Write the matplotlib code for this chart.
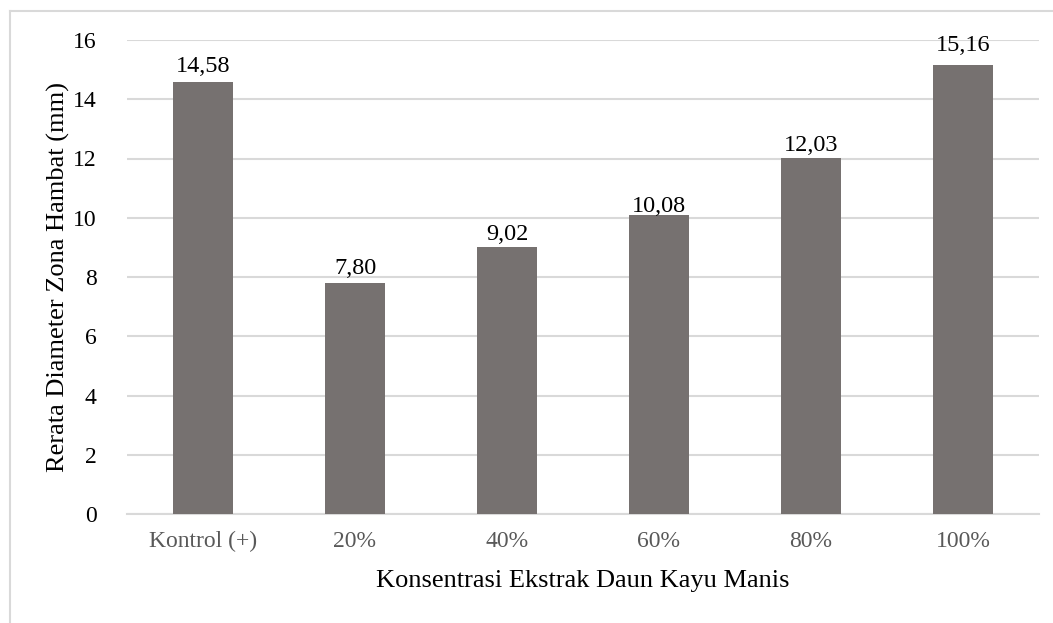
import matplotlib.pyplot as plt
from matplotlib.lines import Line2D

kategori = ['Kontrol (+)', '20%', '40%', '60%', '80%', '100%']
diameter = [14.58, 7.80, 9.02, 10.08, 12.03, 15.16]
label_nilai = ['14,58', '7,80', '9,02', '10,08', '12,03', '15,16']
y_ticks = [0, 2, 4, 6, 8, 10, 12, 14, 16]

# jarak label ke puncak batang (piksel)
jarak_label = [10, 9, 7, 3, 7, 14]

plt.rcParams['font.family'] = ['Liberation Serif', 'DejaVu Serif']

W, H = 1053, 623
fig = plt.figure(figsize=(W / 100, H / 100), dpi=100)
ax = fig.add_axes([127 / W, 1 - 514 / H, (1039 - 127) / W, (514 - 40) / H])

x = range(len(kategori))
bars = ax.bar(x, diameter, width=0.4, color='#767170', zorder=3)

for rect, teks, d in zip(bars, label_nilai, jarak_label):
    ax.annotate(teks, (rect.get_x() + rect.get_width() / 2, rect.get_height()),
                xytext=(0, d * 0.72), textcoords='offset points',
                ha='center', va='baseline', fontsize=17.5, color='black', zorder=4)

ax.set_xlim(-0.5, len(kategori) - 0.5)
ax.set_ylim(0, 16)
ax.set_yticks(y_ticks)
ax.set_yticklabels([str(t) for t in y_ticks], fontsize=17, color='black')
ax.set_xticks(list(x))
ax.set_xticklabels(kategori, fontsize=17, color='#595959')
ax.tick_params(axis='both', length=0)
ax.tick_params(axis='y', pad=22)
ax.tick_params(axis='x', pad=12)

ax.grid(axis='y', color='#d9d9d9', linewidth=1.5, zorder=0)
for s in ['top', 'right', 'left']:
    ax.spines[s].set_visible(False)
ax.spines['bottom'].set_color('#d9d9d9')
ax.spines['bottom'].set_linewidth(1.5)

fig.text(583 / W, 1 - 581 / H, 'Konsentrasi Ekstrak Daun Kayu Manis',
         ha='center', va='center', fontsize=19)
fig.text(58 / W, 1 - 277 / H, 'Rerata Diameter Zona Hambat (mm)',
         ha='center', va='center', rotation=90, fontsize=19)

# garis bingkai area grafik (atas dan kiri)
fig.add_artist(Line2D([10 / W, 1], [1 - 11 / H, 1 - 11 / H], color='#d9d9d9', linewidth=1.5))
fig.add_artist(Line2D([10 / W, 10 / W], [0, 1 - 11 / H], color='#d9d9d9', linewidth=1.5))

fig.savefig('out.png', dpi=100)
